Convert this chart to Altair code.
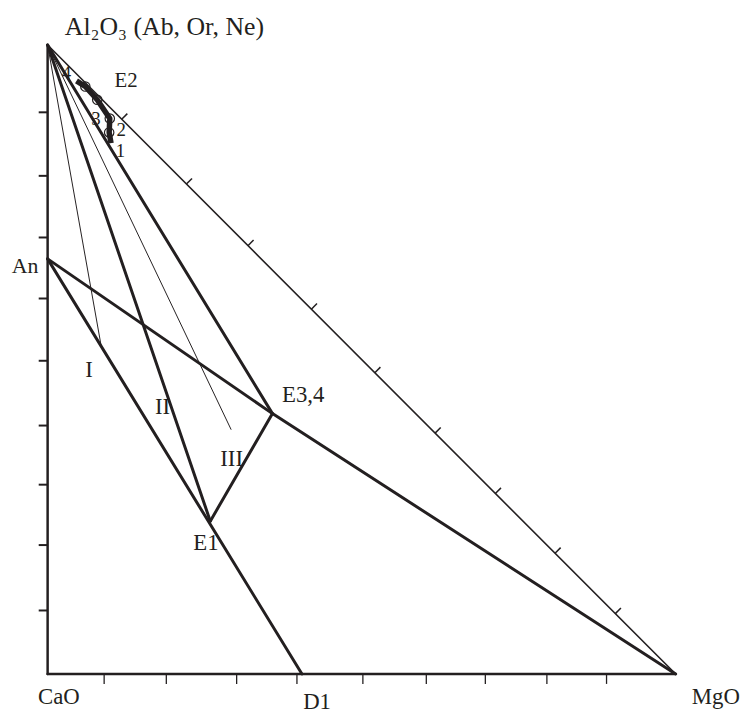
import altair as alt
import pandas as pd

# ---- data (units: x = % toward MgO, y = % toward Al2O3) ----
vertex_names = ["CaO", "MgO", "Al2O3", "An", "D1", "E1", "E3,4", "I_end", "III_end"]
vertex_x = [0.0, 100.0, 0.0, 0.0, 40.5, 25.9, 35.8, 8.5, 29.2]
vertex_y = [0.0, 0.0, 100.0, 66.0, 0.0, 24.3, 41.4, 52.3, 38.9]

# boundary paths through the named vertices, with stroke width
path_names = ["left", "bottom", "hyp", "II", "An_D1", "An_E34_MgO", "E1_E34", "apex_E34", "thin_I", "thin_III"]
path_nodes = [
    ["CaO", "Al2O3"],
    ["CaO", "MgO"],
    ["Al2O3", "MgO"],
    ["Al2O3", "E1"],
    ["An", "D1"],
    ["An", "E3,4", "MgO"],
    ["E1", "E3,4"],
    ["Al2O3", "E3,4"],
    ["Al2O3", "I_end"],
    ["Al2O3", "III_end"],
]
path_widths = [2.5, 2.5, 1.6, 3.0, 3.0, 3.0, 3.0, 3.0, 1.0, 1.0]

# E2 trend (points 4-3-2-1)
curve_x = [4.6, 6.0, 7.9, 9.9, 9.8, 10.1]
curve_y = [94.3, 93.4, 91.3, 88.3, 86.1, 84.4]
circle_x = [6.0, 7.9, 9.9, 9.8]
circle_y = [93.4, 91.3, 88.3, 86.1]

# axis ticks
bottom_tick_x = [9.0, 18.9, 30.1, 39.7, 50.2, 60.3, 69.7, 79.5, 89.0]
left_tick_y = [10.1, 20.5, 30.1, 39.5, 49.8, 59.7, 69.4, 79.2, 89.3]
hyp_tick_x = [11.8, 22.1, 31.9, 42.0, 52.1, 61.7, 71.3, 80.8, 90.4]
hyp_tick_y = [88.2, 77.9, 68.1, 58.0, 47.9, 38.3, 28.7, 19.2, 9.6]

# labels
label_text = ["Al\u2082O\u2083 (Ab, Or, Ne)", "E2", "4", "3", "2", "1", "An", "I", "II", "III",
              "E3,4", "E1", "CaO", "D1", "MgO"]
label_x = [18.6, 12.5, 3.0, 7.7, 11.7, 11.6, -3.6, 6.6, 18.3, 29.3, 40.7, 25.2, 1.8, 42.9, 106.4]
label_y = [102.9, 94.2, 95.6, 88.2, 86.5, 83.2, 64.9, 48.3, 42.4, 34.2, 44.4, 20.8, -3.6, -4.5, -3.6]
label_size = [26, 21, 19, 19, 19, 19, 22, 23, 23, 23, 23, 23, 23, 23, 23]

INK = "#231f20"

# ---- build tables ----
vx = dict(zip(vertex_names, vertex_x))
vy = dict(zip(vertex_names, vertex_y))
rows = []
for name, nodes, w in zip(path_names, path_nodes, path_widths):
    for i, n in enumerate(nodes):
        rows.append({"path": name, "o": i, "x": vx[n], "y": vy[n], "w": w})
paths_df = pd.DataFrame(rows)
curve_df = pd.DataFrame({"x": curve_x, "y": curve_y, "o": range(len(curve_x))})
circ_df = pd.DataFrame({"x": circle_x, "y": circle_y})
bt_df = pd.DataFrame({"x": bottom_tick_x, "y": [0.0] * len(bottom_tick_x)})
lt_df = pd.DataFrame({"x": [0.0] * len(left_tick_y), "y": left_tick_y})
ht_df = pd.DataFrame({"x": hyp_tick_x, "y": hyp_tick_y})
lab_df = pd.DataFrame({"t": label_text, "x": label_x, "y": label_y, "fs": label_size})

xs = alt.Scale(domain=[0, 100], nice=False, zero=False)
ys = alt.Scale(domain=[0, 100], nice=False, zero=False)
X = alt.X("x:Q", scale=xs, axis=None)
Y = alt.Y("y:Q", scale=ys, axis=None)

lines = alt.Chart(paths_df).mark_line(color=INK, strokeCap="round", strokeJoin="round").encode(
    x=X, y=Y, detail="path:N", order="o:Q",
    strokeWidth=alt.StrokeWidth("w:Q", scale=None),
)
curve = alt.Chart(curve_df).mark_line(color=INK, strokeWidth=5.5, strokeJoin="round").encode(
    x=X, y=Y, order="o:Q"
)
circles = alt.Chart(circ_df).mark_point(shape="circle", filled=False, color=INK, size=90,
                                        strokeWidth=1.2, opacity=1).encode(x=X, y=Y)
bticks = alt.Chart(bt_df).mark_point(shape="M0,0L0,1", filled=False, color=INK, size=400,
                                     strokeWidth=1.3, opacity=1).encode(x=X, y=Y)
lticks = alt.Chart(lt_df).mark_point(shape="M0,0L-1,0", filled=False, color=INK, size=324,
                                     strokeWidth=2, opacity=1).encode(x=X, y=Y)
hticks = alt.Chart(ht_df).mark_point(shape="M0,0L0.707,-0.707", filled=False, color=INK, size=256,
                                     strokeWidth=1.5, opacity=1).encode(x=X, y=Y)
labels = alt.Chart(lab_df).mark_text(font="Liberation Serif", color=INK, align="center",
                                     baseline="middle").encode(
    x=X, y=Y, text="t:N", size=alt.Size("fs:Q", scale=None)
)

chart = alt.layer(lines, curve, circles, bticks, lticks, hticks, labels).properties(
    width=634, height=635,
    autosize=alt.AutoSizeParams(type="none"),
    padding={"left": 40, "top": 34, "right": 66, "bottom": 36},
).configure_view(stroke=None)

chart.save("out.html", embed_options={"renderer": "svg", "actions": False})
